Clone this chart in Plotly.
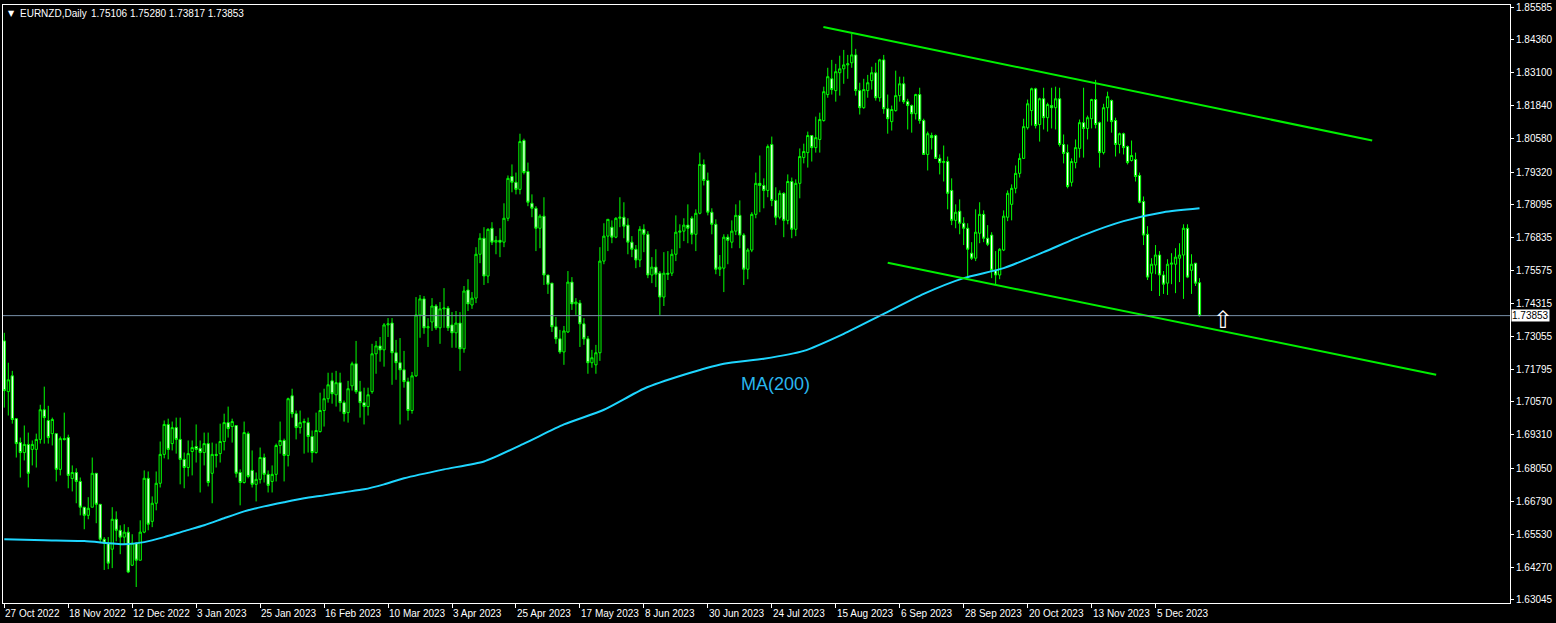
import plotly.graph_objects as go

# ---------------- data ----------------
opens = [
1.7289,1.7096,1.7156,1.6993,1.6902,1.6864,1.6895,1.6876,1.6876,1.6914,
1.7027,1.6986,1.6936,1.6936,1.6800,1.6917,1.6921,1.6765,1.6788,1.6754,
1.6656,1.6625,1.6656,1.6785,1.6667,1.6534,1.6519,1.6496,1.6610,1.6568,
1.6542,1.6561,1.6435,1.6519,1.6454,1.6561,1.6766,1.6602,1.6671,1.6747,
1.6857,1.6971,1.6898,1.6959,1.6914,1.6838,1.6807,1.6868,1.6887,1.6880,
1.6864,1.6898,1.6785,1.6857,1.6860,1.6906,1.6978,1.6963,1.6967,1.6788,
1.6750,1.6936,1.6796,1.6743,1.6762,1.6845,1.6781,1.6754,1.6781,1.6891,
1.6910,1.6853,1.7080,1.7012,1.6959,1.6978,1.6978,1.6925,1.6864,1.6944,
1.7024,1.7069,1.7137,1.7084,1.7130,1.7054,1.7016,1.7118,1.7202,1.7096,
1.7054,1.7039,1.7096,1.7240,1.7270,1.7255,1.7350,1.7357,1.7244,1.7206,
1.7179,1.7134,1.7024,1.7156,1.7388,1.7449,1.7339,1.7361,1.7422,1.7339,
1.7411,1.7414,1.7350,1.7320,1.7357,1.7259,1.7483,1.7426,1.7452,1.7619,
1.7680,1.7536,1.7718,1.7665,1.7672,1.7665,1.7756,1.7915,1.7893,1.7866,
1.8052,1.7934,1.7813,1.7794,1.7718,1.7764,1.7540,1.7509,1.7343,1.7297,
1.7247,1.7323,1.7513,1.7430,1.7433,1.7354,1.7297,1.7206,1.7198,1.7244,
1.7593,1.7688,1.7722,1.7684,1.7756,1.7760,1.7730,1.7665,1.7638,1.7597,
1.7714,1.7695,1.7540,1.7570,1.7547,1.7456,1.7547,1.7547,1.7619,1.7703,
1.7707,1.7730,1.7756,1.7695,1.7775,1.7961,1.7900,1.7779,1.7733,1.7562,
1.7566,1.7684,1.7665,1.7707,1.7767,1.7692,1.7562,1.7635,1.7771,1.7889,
1.7881,1.7862,1.8037,1.7824,1.7760,1.7851,1.7748,1.7896,1.7714,1.7889,
1.7987,1.8006,1.8071,1.8025,1.8056,1.8128,1.8227,1.8287,1.8242,1.8310,
1.8325,1.8340,1.8348,1.8378,1.8242,1.8177,1.8242,1.8280,1.8310,1.8215,
1.8359,1.8173,1.8124,1.8166,1.8223,1.8268,1.8200,1.8185,1.8154,1.8227,
1.8128,1.7999,1.8071,1.8071,1.7984,1.7968,1.7972,1.7862,1.7748,1.7783,
1.7737,1.7718,1.7623,1.7604,1.7699,1.7771,1.7680,1.7692,1.7558,1.7540,
1.7635,1.7760,1.7809,1.7870,1.7927,1.7984,1.8101,1.8166,1.8249,1.8113,
1.8211,1.8139,1.8185,1.8177,1.8211,1.8037,1.8006,1.7893,1.7968,1.8022,
1.8120,1.8098,1.8135,1.8208,1.8120,1.8006,1.8177,1.8204,1.8128,1.8037,
1.8078,1.8029,1.7976,1.7980,1.7919,1.7820,1.7695,1.7547,1.7578,1.7616,
1.7540,1.7509,1.7581,1.7581,1.7604,1.7616,1.7718,1.7558,1.7585,1.75106]

highs = [
1.7320,1.7206,1.7175,1.6993,1.6921,1.6967,1.6940,1.6910,1.6936,1.7046,
1.7115,1.7042,1.6997,1.6936,1.6925,1.7016,1.6932,1.6815,1.6804,1.6769,
1.6656,1.6694,1.6845,1.6785,1.6667,1.6542,1.6542,1.6656,1.6640,1.6587,
1.6591,1.6580,1.6553,1.6523,1.6606,1.6796,1.6792,1.6697,1.6792,1.6906,
1.6986,1.6993,1.6982,1.6997,1.6997,1.6864,1.6910,1.6910,1.6971,1.6910,
1.6940,1.6940,1.6902,1.6898,1.6974,1.7012,1.7039,1.6993,1.6967,1.6800,
1.6982,1.6944,1.6872,1.6788,1.6883,1.6860,1.6796,1.6815,1.6898,1.6982,
1.6917,1.7073,1.7107,1.7024,1.7024,1.6993,1.6997,1.6948,1.7016,1.7092,
1.7107,1.7168,1.7168,1.7175,1.7168,1.7062,1.7137,1.7210,1.7289,1.7137,
1.7111,1.7111,1.7278,1.7289,1.7304,1.7357,1.7376,1.7376,1.7293,1.7300,
1.7251,1.7149,1.7171,1.7456,1.7464,1.7460,1.7376,1.7452,1.7429,1.7437,
1.7490,1.7422,1.7399,1.7403,1.7399,1.7498,1.7524,1.7475,1.7646,1.7699,
1.7722,1.7718,1.7741,1.7688,1.7718,1.7813,1.7919,1.7961,1.7930,1.8078,
1.8059,1.7968,1.7847,1.7802,1.7771,1.7836,1.7540,1.7509,1.7380,1.7331,
1.7346,1.7555,1.7532,1.7452,1.7445,1.7376,1.7308,1.7255,1.7274,1.7646,
1.7737,1.7752,1.7748,1.7760,1.7836,1.7817,1.7756,1.7688,1.7654,1.7726,
1.7733,1.7707,1.7608,1.7638,1.7555,1.7627,1.7631,1.7638,1.7767,1.7733,
1.7756,1.7809,1.7764,1.7790,1.8006,1.7980,1.7930,1.7794,1.7752,1.7616,
1.7695,1.7695,1.7748,1.7809,1.7824,1.7699,1.7642,1.7779,1.7930,1.7995,
1.7908,1.8037,1.8067,1.7874,1.7862,1.7855,1.7923,1.7911,1.7904,1.8022,
1.8040,1.8086,1.8071,1.8143,1.8158,1.8257,1.8329,1.8359,1.8344,1.8375,
1.8397,1.8378,1.8458,1.8401,1.8272,1.8287,1.8302,1.8333,1.8348,1.8363,
1.8378,1.8227,1.8185,1.8318,1.8295,1.8295,1.8211,1.8189,1.8230,1.8253,
1.8135,1.8086,1.8082,1.8075,1.7999,1.8033,1.7991,1.7908,1.7809,1.7828,
1.7760,1.7737,1.7665,1.7790,1.7817,1.7786,1.7730,1.7703,1.7631,1.7642,
1.7786,1.7862,1.7885,1.7957,1.8003,1.8135,1.8208,1.8253,1.8253,1.8215,
1.8253,1.8196,1.8253,1.8257,1.8253,1.8075,1.8037,1.7984,1.8056,1.8132,
1.8253,1.8147,1.8211,1.8283,1.8124,1.8192,1.8238,1.8208,1.8139,1.8082,
1.8082,1.8033,1.8052,1.8006,1.7930,1.7839,1.7726,1.7604,1.7654,1.7631,
1.7555,1.7600,1.7623,1.7642,1.7661,1.7733,1.7733,1.7619,1.7585,1.75280]

lows = [
1.7035,1.7005,1.6974,1.6845,1.6769,1.6834,1.6731,1.6815,1.6807,1.6898,
1.6898,1.6898,1.6891,1.6754,1.6777,1.6910,1.6728,1.6716,1.6671,1.6625,
1.6572,1.6610,1.6656,1.6595,1.6519,1.6417,1.6420,1.6424,1.6526,1.6477,
1.6515,1.6405,1.6432,1.6352,1.6454,1.6557,1.6568,1.6580,1.6644,1.6731,
1.6842,1.6838,1.6872,1.6860,1.6743,1.6728,1.6773,1.6777,1.6826,1.6712,
1.6815,1.6735,1.6671,1.6807,1.6826,1.6872,1.6921,1.6902,1.6769,1.6663,
1.6746,1.6766,1.6731,1.6678,1.6746,1.6750,1.6712,1.6712,1.6754,1.6860,
1.6754,1.6811,1.6997,1.6914,1.6936,1.6860,1.6864,1.6826,1.6860,1.6940,
1.6963,1.7054,1.7050,1.7039,1.7020,1.6982,1.6978,1.7100,1.7088,1.6997,
1.6971,1.7005,1.7088,1.7164,1.7210,1.7191,1.7304,1.7122,1.7141,1.6971,
1.7111,1.6986,1.7012,1.7152,1.7301,1.7316,1.7266,1.7327,1.7331,1.7278,
1.7339,1.7327,1.7263,1.7263,1.7175,1.7244,1.7403,1.7411,1.7433,1.7585,
1.7502,1.7509,1.7654,1.7619,1.7608,1.7646,1.7745,1.7855,1.7847,1.7847,
1.7923,1.7802,1.7760,1.7631,1.7642,1.7502,1.7468,1.7323,1.7278,1.7240,
1.7198,1.7320,1.7407,1.7388,1.7266,1.7274,1.7164,1.7187,1.7164,1.7213,
1.7581,1.7631,1.7661,1.7680,1.7722,1.7680,1.7619,1.7608,1.7566,1.7570,
1.7627,1.7528,1.7509,1.7494,1.7388,1.7422,1.7521,1.7536,1.7593,1.7642,
1.7669,1.7661,1.7657,1.7631,1.7771,1.7881,1.7767,1.7695,1.7543,1.7536,
1.7475,1.7581,1.7642,1.7692,1.7642,1.7502,1.7524,1.7627,1.7756,1.7779,
1.7794,1.7836,1.7802,1.7730,1.7752,1.7684,1.7733,1.7680,1.7688,1.7832,
1.7965,1.7949,1.7972,1.8006,1.8006,1.8124,1.8215,1.8227,1.8200,1.8223,
1.8268,1.8287,1.8329,1.8223,1.8151,1.8173,1.8215,1.8246,1.8204,1.8200,
1.8154,1.8078,1.8090,1.8162,1.8200,1.8192,1.8094,1.8082,1.8132,1.8116,
1.7999,1.7938,1.8018,1.7984,1.7923,1.7896,1.7790,1.7730,1.7718,1.7695,
1.7654,1.7528,1.7597,1.7593,1.7661,1.7665,1.7650,1.7528,1.7505,1.7524,
1.7631,1.7745,1.7748,1.7851,1.7911,1.7984,1.8094,1.8109,1.8098,1.8048,
1.8094,1.8086,1.8098,1.8094,1.8029,1.7965,1.7870,1.7877,1.7946,1.7987,
1.7987,1.8056,1.8098,1.8098,1.7949,1.7999,1.8124,1.8082,1.7991,1.8003,
1.7999,1.7961,1.7972,1.7896,1.7813,1.7654,1.7521,1.7479,1.7543,1.7460,
1.7468,1.7464,1.7505,1.7471,1.7513,1.7449,1.7528,1.7468,1.7498,1.73817]

closes = [
1.7100,1.7141,1.6990,1.6898,1.6864,1.6895,1.6785,1.6895,1.6914,1.7027,
1.6997,1.6921,1.6990,1.6800,1.6917,1.6914,1.6777,1.6788,1.6754,1.6656,
1.6625,1.6652,1.6785,1.6667,1.6534,1.6519,1.6443,1.6610,1.6568,1.6542,
1.6561,1.6409,1.6519,1.6454,1.6561,1.6766,1.6591,1.6671,1.6747,1.6857,
1.6971,1.6876,1.6959,1.6914,1.6838,1.6807,1.6860,1.6883,1.6876,1.6864,
1.6898,1.6750,1.6857,1.6853,1.6906,1.6978,1.6955,1.6982,1.6785,1.6750,
1.6940,1.6773,1.6743,1.6762,1.6845,1.6781,1.6739,1.6781,1.6891,1.6910,
1.6853,1.7069,1.7012,1.6959,1.6978,1.6982,1.6925,1.6864,1.6948,1.7024,
1.7069,1.7122,1.7088,1.7130,1.7054,1.7012,1.7107,1.7202,1.7096,1.7054,
1.7039,1.7084,1.7240,1.7270,1.7255,1.7350,1.7354,1.7244,1.7206,1.7179,
1.7134,1.7024,1.7156,1.7388,1.7449,1.7339,1.7343,1.7422,1.7339,1.7411,
1.7414,1.7339,1.7320,1.7357,1.7259,1.7479,1.7430,1.7452,1.7619,1.7680,
1.7536,1.7714,1.7665,1.7672,1.7665,1.7756,1.7908,1.7893,1.7866,1.8048,
1.7930,1.7817,1.7794,1.7718,1.7764,1.7540,1.7505,1.7343,1.7297,1.7247,
1.7327,1.7513,1.7430,1.7437,1.7354,1.7297,1.7206,1.7225,1.7244,1.7593,
1.7688,1.7752,1.7684,1.7756,1.7760,1.7726,1.7665,1.7638,1.7597,1.7714,
1.7695,1.7540,1.7570,1.7543,1.7456,1.7547,1.7543,1.7619,1.7703,1.7707,
1.7730,1.7718,1.7695,1.7775,1.7961,1.7900,1.7779,1.7733,1.7562,1.7570,
1.7684,1.7672,1.7707,1.7767,1.7692,1.7562,1.7635,1.7771,1.7889,1.7881,
1.7862,1.8029,1.7824,1.7760,1.7851,1.7748,1.7896,1.7714,1.7889,1.7991,
1.8010,1.8071,1.8025,1.8063,1.8132,1.8238,1.8295,1.8246,1.8314,1.8325,
1.8340,1.8344,1.8378,1.8242,1.8177,1.8246,1.8272,1.8310,1.8215,1.8359,
1.8173,1.8135,1.8170,1.8223,1.8268,1.8200,1.8185,1.8154,1.8227,1.8128,
1.7999,1.8078,1.8063,1.7984,1.7968,1.7972,1.7851,1.7748,1.7779,1.7737,
1.7718,1.7638,1.7604,1.7703,1.7771,1.7680,1.7657,1.7558,1.7540,1.7638,
1.7764,1.7851,1.7870,1.7927,1.7984,1.8105,1.8192,1.8249,1.8109,1.8211,
1.8139,1.8189,1.8177,1.8211,1.8037,1.8003,1.7877,1.7972,1.8025,1.8120,
1.8098,1.8139,1.8208,1.8113,1.8006,1.8177,1.8219,1.8124,1.8037,1.8078,
1.8025,1.7968,1.7995,1.7915,1.7817,1.7692,1.7532,1.7581,1.7616,1.7540,
1.7505,1.7581,1.7585,1.7608,1.7616,1.7718,1.7532,1.7581,1.7509,1.73853]

bars = list(range(len(closes)))

# 200-period moving average at selected bars
ma_bars = [0, 10, 20, 30, 35, 40, 45, 50, 55, 60, 65, 70, 75, 80, 85, 90, 95, 100,
           110, 120, 130, 140, 150, 160, 170, 180, 190, 200, 210, 220, 230, 240,
           250, 260, 270, 280, 290, 299]
ma_vals = [1.6534, 1.6530, 1.6527, 1.6515, 1.6523, 1.6542, 1.6565, 1.6587, 1.6614,
           1.6640, 1.6659, 1.6675, 1.6690, 1.6701, 1.6713, 1.6724, 1.6743, 1.6766,
           1.6800, 1.6830, 1.6898, 1.6971, 1.7027, 1.7107, 1.7160, 1.7202, 1.7221,
           1.7251, 1.7316, 1.7392, 1.7468, 1.7528, 1.7566, 1.7627, 1.7692, 1.7745,
           1.7779, 1.7794]

# trend channel lines (bar index, price)
upper_line_bars = [204.9, 342.2]
upper_line_prices = [1.84845, 1.80520]
lower_line_bars = [221.0, 358.2]
lower_line_prices = [1.75864, 1.71602]

current_price = 1.73853
arrow_bar = 305
arrow_price = 1.7369
ma_label_bar = 193
ma_label_price = 1.7126

date_ticks = list(range(0, 289, 16))
date_labels = ["27 Oct 2022", "18 Nov 2022", "12 Dec 2022", "3 Jan 2023", "25 Jan 2023",
               "16 Feb 2023", "10 Mar 2023", "3 Apr 2023", "25 Apr 2023", "17 May 2023",
               "8 Jun 2023", "30 Jun 2023", "24 Jul 2023", "15 Aug 2023", "6 Sep 2023",
               "28 Sep 2023", "20 Oct 2023", "13 Nov 2023", "5 Dec 2023"]
price_ticks = [1.85585, 1.84360, 1.83100, 1.81840, 1.80580, 1.79320, 1.78095, 1.76835,
               1.75575, 1.74315, 1.73055, 1.71795, 1.70570, 1.69310, 1.68050, 1.66790,
               1.65530, 1.64270, 1.63045]

# ---------------- figure ----------------
FONT = "Liberation Sans"
GREEN = "#00FF00"
MA_COLOR = "#1ED6FF"

fig = go.Figure()
fig.add_trace(go.Candlestick(
    x=bars, open=opens, high=highs, low=lows, close=closes,
    increasing=dict(line=dict(color=GREEN, width=1), fillcolor="black"),
    decreasing=dict(line=dict(color=GREEN, width=1), fillcolor="white"),
    whiskerwidth=0, hoverinfo="skip", showlegend=False))

fig.add_trace(go.Scatter(x=ma_bars, y=ma_vals, mode="lines",
                         line=dict(color=MA_COLOR, width=2, shape="spline", smoothing=0.6),
                         hoverinfo="skip", showlegend=False))

fig.add_trace(go.Scatter(x=upper_line_bars, y=upper_line_prices, mode="lines",
                         line=dict(color="#00F000", width=2), hoverinfo="skip", showlegend=False))
fig.add_trace(go.Scatter(x=lower_line_bars, y=lower_line_prices, mode="lines",
                         line=dict(color="#00F000", width=2), hoverinfo="skip", showlegend=False))

fig.add_hline(y=current_price, line=dict(color="#7890AA", width=1))

annotations = []
for t, lab in zip(date_ticks, date_labels):
    annotations.append(dict(x=t, y=0, xref="x", yref="paper", text=lab, showarrow=False,
                            xanchor="left", yanchor="top", xshift=-1, yshift=-3,
                            font=dict(family=FONT, size=10, color="white")))

annotations.append(dict(x=1, y=current_price, xref="paper", yref="y", text="1.73853",
                        showarrow=False, xanchor="left", yanchor="middle", xshift=1,
                        bgcolor="white", borderpad=0,
                        font=dict(family=FONT, size=10, color="black")))
annotations.append(dict(x=0, y=1, xref="paper", yref="paper", text="▼", showarrow=False,
                        xanchor="left", yanchor="top", xshift=3, yshift=-2,
                        font=dict(family="DejaVu Sans", size=8, color="white")))
annotations.append(dict(x=0, y=1, xref="paper", yref="paper", text="EURNZD,Daily",
                        showarrow=False, xanchor="left", yanchor="top", xshift=15, yshift=-1,
                        font=dict(family=FONT, size=10, color="white")))
annotations.append(dict(x=0, y=1, xref="paper", yref="paper",
                        text="1.75106 1.75280 1.73817 1.73853",
                        showarrow=False, xanchor="left", yanchor="top", xshift=86, yshift=-1,
                        font=dict(family=FONT, size=10, color="white")))
annotations.append(dict(x=ma_label_bar, y=ma_label_price, xref="x", yref="y", text="MA(200)",
                        showarrow=False, xanchor="center", yanchor="middle",
                        font=dict(family=FONT, size=18, color="#29B6EE")))
annotations.append(dict(x=arrow_bar, y=arrow_price, xref="x", yref="y", text="⇧",
                        showarrow=False, xanchor="center", yanchor="middle",
                        font=dict(family="DejaVu Sans", size=24, color="white")))

fig.update_layout(
    width=1556, height=623,
    margin=dict(l=2, r=46, t=3, b=20),
    paper_bgcolor="black", plot_bgcolor="black",
    showlegend=False,
    boxgap=0.2,
    annotations=annotations,
    xaxis=dict(range=[-0.325, 376.675], showgrid=False, zeroline=False,
               showline=True, linecolor="white", linewidth=1, mirror=True,
               ticks="outside", ticklen=4, tickcolor="white",
               tickvals=date_ticks, showticklabels=False,
               rangeslider=dict(visible=False), fixedrange=True),
    yaxis=dict(range=[1.62912, 1.85680], side="right", showgrid=False, zeroline=False,
               showline=True, linecolor="white", linewidth=1, mirror=True,
               ticks="outside", ticklen=3, tickcolor="white",
               tickvals=price_ticks, ticktext=[f"{v:.5f}" for v in price_ticks],
               tickfont=dict(family=FONT, size=10, color="white"), fixedrange=True),
)

fig.write_html("out.html", config={"displayModeBar": False},
               post_script="document.body.style.margin='0';document.body.style.background='black';")
